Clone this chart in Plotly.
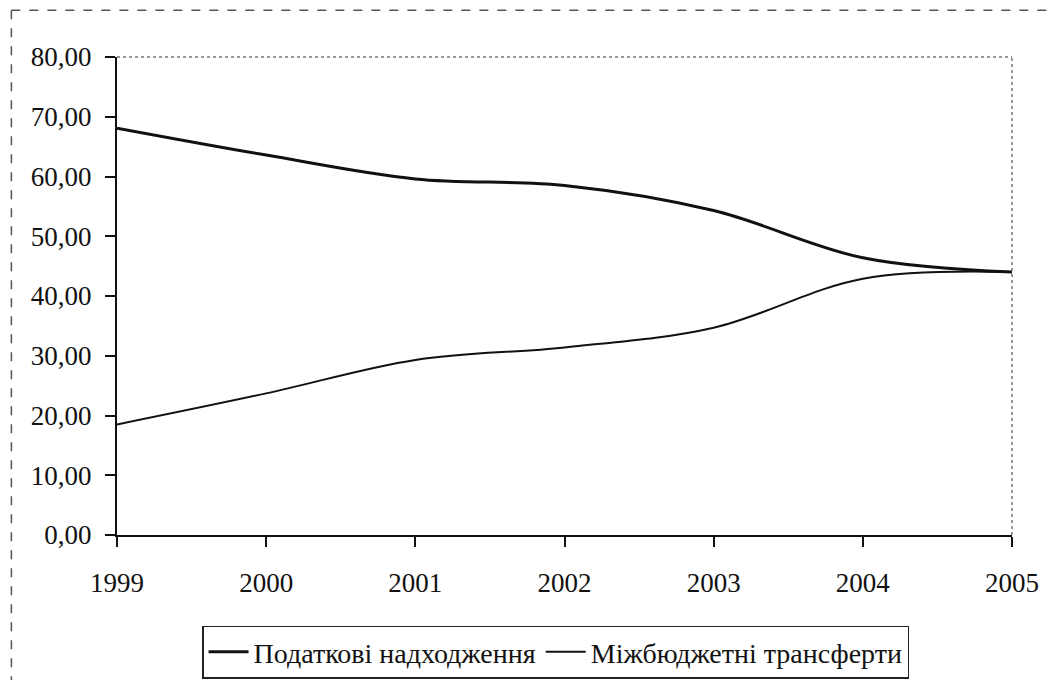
import plotly.graph_objects as go

years = [1999, 2000, 2001, 2002, 2003, 2004, 2005]
tax_revenue = [68.1, 63.6, 59.6, 58.5, 54.3, 46.4, 44.0]
transfers = [18.5, 23.7, 29.3, 31.4, 34.7, 42.9, 44.0]
y_ticks = [0, 10, 20, 30, 40, 50, 60, 70, 80]
names = ["Податкові надходження", "Міжбюджетні трансферти"]

font_family = "Liberation Serif"

fig = go.Figure()
fig.add_trace(go.Scatter(x=years, y=tax_revenue, mode="lines", name=names[0],
                         line=dict(color="#111111", width=3, shape="spline", smoothing=1.0)))
fig.add_trace(go.Scatter(x=years, y=transfers, mode="lines", name=names[1],
                         line=dict(color="#111111", width=2, shape="spline", smoothing=1.0)))

fig.update_layout(
    width=1043, height=672,
    margin=dict(l=109, r=35, t=49, b=145),
    paper_bgcolor="white", plot_bgcolor="white",
    separators=", ",
    font=dict(family=font_family, size=27, color="#111111"),
    showlegend=True,
    legend=dict(orientation="h", xref="paper", yref="container",
                x=0.49, xanchor="center", y=0.081, yanchor="top",
                bordercolor="#222222", borderwidth=1.5, font=dict(size=28, family=font_family),
                itemwidth=40, tracegroupgap=0),
    shapes=[
        dict(type="line", xref="paper", yref="paper", x0=-0.118, x1=1.05, y0=1.098, y1=1.098,
             line=dict(color="#555555", width=1.5, dash="dash")),
        dict(type="line", xref="paper", yref="paper", x0=-0.118, x1=-0.118, y0=1.098, y1=-0.35,
             line=dict(color="#555555", width=1.5, dash="dash")),
    ],
)
fig.update_xaxes(range=[1999, 2005], tickvals=years, ticktext=[str(y) for y in years],
                 showgrid=False, zeroline=False, showline=True, linecolor="#111111", linewidth=2,
                 ticks="outside", ticklen=10, tickwidth=2, tickcolor="#111111",
                 tickfont=dict(size=27, family=font_family), ticklabelstandoff=13, mirror=False)
fig.update_yaxes(range=[0, 80], tickvals=y_ticks, tickformat=".2f",
                 showgrid=False, zeroline=False, showline=True, linecolor="#111111", linewidth=2,
                 ticks="outside", ticklen=10, tickwidth=2, tickcolor="#111111",
                 tickfont=dict(size=27, family=font_family), ticklabelstandoff=8)
fig.add_shape(type="line", xref="paper", yref="paper", x0=0, x1=1, y0=1, y1=1,
              line=dict(color="#777777", width=1.5, dash="dot"))
fig.add_shape(type="line", xref="paper", yref="paper", x0=1, x1=1, y0=0, y1=1,
              line=dict(color="#777777", width=1.5, dash="dot"))

fig.write_html("out.html")
